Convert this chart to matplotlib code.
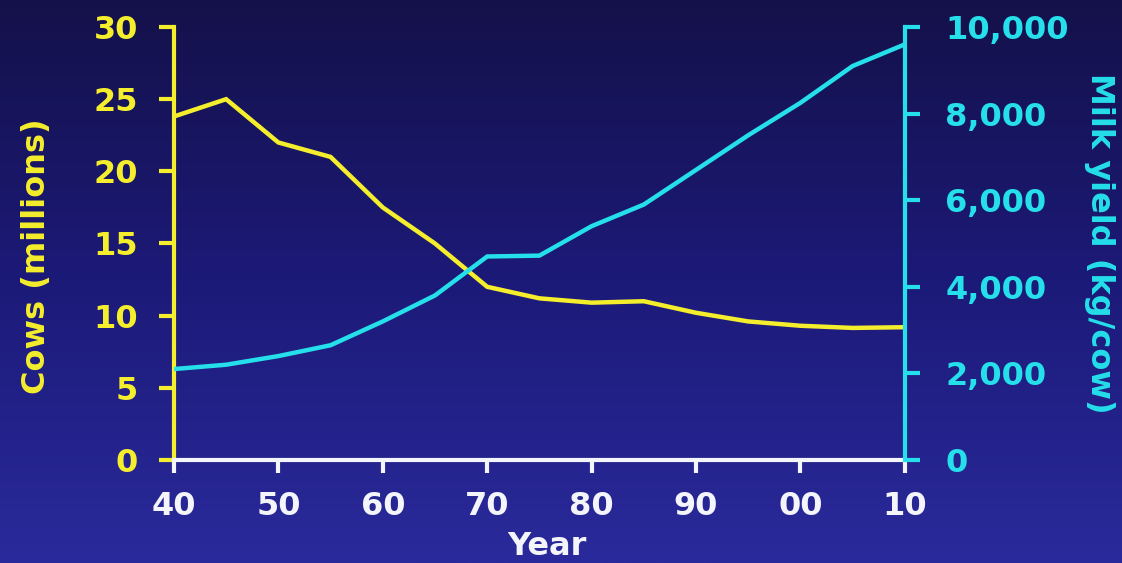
import numpy as np
import matplotlib
matplotlib.use("Agg")
import matplotlib.pyplot as plt
from matplotlib.colors import LinearSegmentedColormap
from matplotlib.ticker import FuncFormatter

# Dairy herd size and yield per cow, 1940-2010
years = [1940, 1945, 1950, 1955, 1960, 1965, 1970, 1975, 1980, 1985,
         1990, 1995, 2000, 2005, 2010]
cows_millions = [23.8, 25.0, 22.0, 21.0, 17.5, 15.0, 12.0, 11.2, 10.9, 11.0,
                 10.2, 9.6, 9.3, 9.15, 9.2]
milk_yield = [2100, 2200, 2400, 2650, 3200, 3800, 4700, 4720, 5400, 5900,
              6700, 7500, 8250, 9100, 9600]
xtick_years = [1940, 1950, 1960, 1970, 1980, 1990, 2000, 2010]
xtick_labels = ["40", "50", "60", "70", "80", "90", "00", "10"]
left_ticks = [0, 5, 10, 15, 20, 25, 30]
right_ticks = [0, 2000, 4000, 6000, 8000, 10000]

YELLOW = "#f4ee2c"
CYAN = "#25dfea"
WHITE = "#f4f4fb"
FS = 23

plt.rcParams["font.family"] = ["DejaVu Sans"]
plt.rcParams["font.weight"] = "bold"
plt.rcParams["axes.labelweight"] = "bold"

fig = plt.figure(figsize=(11.22, 5.63), dpi=100)

# vertical background gradient
bg = fig.add_axes([0, 0, 1, 1], zorder=-10)
cmap = LinearSegmentedColormap.from_list("bg", ["#14114a", "#1c1a78", "#2a2a9c"])
grad = np.linspace(0, 1, 256).reshape(-1, 1)
bg.imshow(grad, aspect="auto", cmap=cmap, extent=[0, 1, 0, 1], origin="upper")
bg.axis("off")

ax = fig.add_axes([0.155, 0.183, 0.6515, 0.769])
ax.set_facecolor("none")
ax2 = ax.twinx()
ax2.set_facecolor("none")

ax.plot(years, cows_millions, color=YELLOW, lw=3.2, solid_joinstyle="miter", zorder=3)
ax2.plot(years, milk_yield, color=CYAN, lw=3.2, solid_joinstyle="miter", zorder=3)

ax.set_xlim(1940, 2010)
ax.set_ylim(0, 30)
ax2.set_ylim(0, 10000)

ax.set_xticks(xtick_years)
ax.set_xticklabels(xtick_labels)
ax.set_yticks(left_ticks)
ax2.set_yticks(right_ticks)
ax2.yaxis.set_major_formatter(FuncFormatter(lambda v, p: f"{int(v):,}"))

for a in (ax, ax2):
    for s in a.spines.values():
        s.set_visible(False)

ax.spines["left"].set_visible(True)
ax.spines["left"].set_color(YELLOW)
ax.spines["left"].set_linewidth(3)
ax.spines["bottom"].set_visible(True)
ax.spines["bottom"].set_color(WHITE)
ax.spines["bottom"].set_linewidth(3)
ax2.spines["right"].set_visible(True)
ax2.spines["right"].set_color(CYAN)
ax2.spines["right"].set_linewidth(3)

ax.tick_params(axis="y", colors=YELLOW, direction="out", length=11, width=3,
               pad=15, labelsize=FS)
ax.tick_params(axis="x", colors=WHITE, direction="out", length=9, width=3,
               pad=13, labelsize=FS)
ax2.tick_params(axis="y", colors=CYAN, direction="out", length=11, width=3,
                pad=18, labelsize=FS)

ax.set_ylabel("Cows (millions)", color=YELLOW, fontsize=FS, labelpad=30)
ax.yaxis.label.set_y(0.47)
ax2.set_ylabel("Milk yield (kg/cow)", color=CYAN, fontsize=FS, rotation=270,
               labelpad=33)
ax.set_xlabel("Year", color=WHITE, fontsize=FS, labelpad=7)
ax.xaxis.label.set_x(0.51)

fig.savefig("out.png", dpi=100)
